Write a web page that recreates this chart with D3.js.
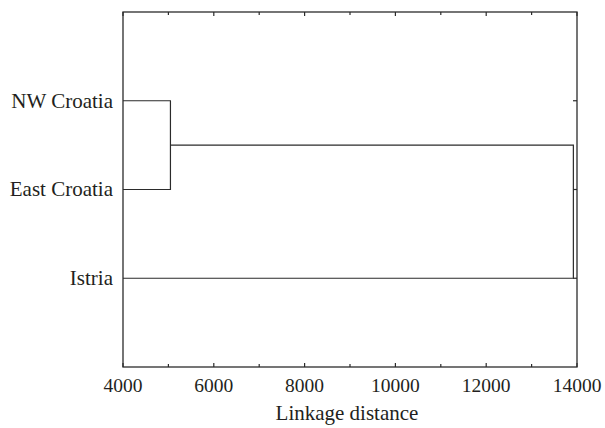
<!DOCTYPE html>
<html>
<head>
<meta charset="utf-8">
<script src="https://cdn.jsdelivr.net/npm/d3@7"></script>
<style>
  body { margin: 0; background: #fff; }
</style>
</head>
<body>
<script>
const width = 605;
const height = 428;
const margin = {top: 12, right: 28, bottom: 61, left: 123};

// leaves, top to bottom
const leaves = ['NW Croatia', 'East Croatia', 'Istria'];
// joins: children are leaf names or earlier join ids
const joinIds = ['c1', 'c2'];
const joinLeft = ['NW Croatia', 'c1'];
const joinRight = ['East Croatia', 'Istria'];
const joinDistance = [5045, 13920];

const xTicks = [4000, 6000, 8000, 10000, 12000, 14000];
const xMinorTicks = [5000, 7000, 9000, 11000, 13000];

const x = d3.scaleLinear()
  .domain([4000, 14000])
  .range([margin.left, width - margin.right]);

const y = d3.scaleLinear()
  .domain([0, leaves.length + 1])
  .range([margin.top, height - margin.bottom]);

const svg = d3.select('body')
  .append('svg')
  .attr('width', width)
  .attr('height', height)
  .attr('font-family', "'Liberation Serif', Tinos, 'Noto Serif', 'DejaVu Serif', serif")
  .attr('fill', '#231f20');

// node positions: leaves at the left edge, joins at their distance
const nodes = {};
leaves.forEach((name, i) => {
  nodes[name] = {x: x(4000), y: y(i + 1)};
});
joinIds.forEach((id, i) => {
  const a = nodes[joinLeft[i]];
  const b = nodes[joinRight[i]];
  nodes[id] = {x: x(joinDistance[i]), y: (a.y + b.y) / 2, a: a, b: b};
});

const line = '#2b2b2b';

// tree links
const links = svg.append('g')
  .attr('fill', 'none')
  .attr('stroke', line)
  .attr('stroke-width', 1.2);

joinIds.forEach(id => {
  const n = nodes[id];
  links.append('path')
    .attr('d', `M${n.a.x},${n.a.y}H${n.x}V${n.b.y}H${n.b.x}`);
});

// frame
svg.append('rect')
  .attr('x', x.range()[0])
  .attr('y', y.range()[0])
  .attr('width', x.range()[1] - x.range()[0])
  .attr('height', y.range()[1] - y.range()[0])
  .attr('fill', 'none')
  .attr('stroke', line)
  .attr('stroke-width', 1.3);

// inward ticks on top and bottom
const tickG = svg.append('g').attr('stroke', line).attr('stroke-width', 1.2);
const addTicks = (vals, len) => {
  vals.forEach(v => {
    tickG.append('line')
      .attr('x1', x(v)).attr('x2', x(v))
      .attr('y1', y.range()[1]).attr('y2', y.range()[1] - len);
    tickG.append('line')
      .attr('x1', x(v)).attr('x2', x(v))
      .attr('y1', y.range()[0]).attr('y2', y.range()[0] + len);
  });
};
addTicks(xTicks, 4);
addTicks(xMinorTicks, 3);

// right side ticks at the leaves
leaves.forEach((name, i) => {
  tickG.append('line')
    .attr('x1', x.range()[1]).attr('x2', x.range()[1] - 4)
    .attr('y1', y(i + 1)).attr('y2', y(i + 1));
});

// x tick labels
svg.append('g')
  .selectAll('text')
  .data(xTicks)
  .join('text')
  .attr('x', d => x(d))
  .attr('y', 392)
  .attr('text-anchor', 'middle')
  .attr('font-size', 19.5)
  .text(d => d);

// leaf labels
svg.append('g')
  .selectAll('text')
  .data(leaves)
  .join('text')
  .attr('x', margin.left - 10)
  .attr('y', (d, i) => y(i + 1))
  .attr('dy', '0.33em')
  .attr('text-anchor', 'end')
  .attr('font-size', 21)
  .text(d => d);

svg.append('text')
  .text('Linkage distance')
  .attr('x', (x.range()[0] + x.range()[1]) / 2 - 3)
  .attr('y', 420)
  .attr('text-anchor', 'middle')
  .attr('font-size', 21);
</script>
</body>
</html>
